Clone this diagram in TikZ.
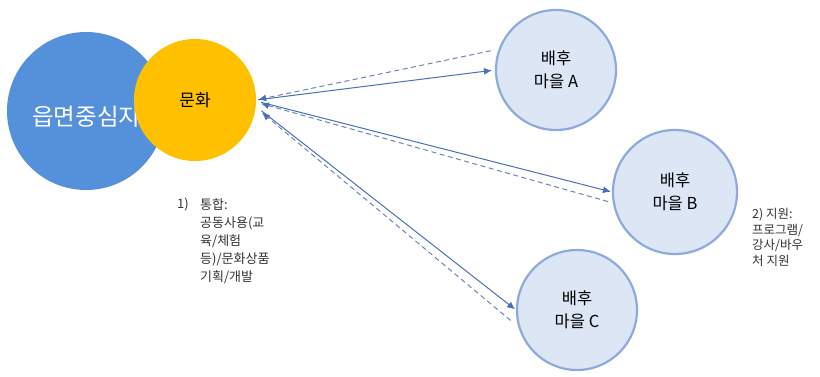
\documentclass[tikz,border=0pt]{standalone}
\usepackage{fontspec}
\setmainfont{Noto Sans CJK KR}
\usetikzlibrary{arrows.meta}
\definecolor{bigblue}{HTML}{5590DA}
\definecolor{gold}{HTML}{FFC000}
\definecolor{vfill}{HTML}{DCE6F5}
\definecolor{vline}{HTML}{8EAADB}
\definecolor{arr}{HTML}{4A70B8}
\definecolor{darr}{HTML}{6F82BA}
\definecolor{txt}{HTML}{333333}
\tikzset{
  village/.style={circle,draw=vline,line width=2.2pt,fill=vfill,minimum size=120pt,inner sep=0pt,align=center,font=\fontsize{16.5}{23}\selectfont,text=black},
  solidarr/.style={draw=arr,line width=1pt,-{Latex[length=8pt,width=7pt]}},
  dasharr/.style={draw=darr,line width=1pt,dash pattern=on 5pt off 3.5pt,arrows={-{Latex[length=8pt,width=7pt,color=arr]}}},
  note/.style={anchor=north west,align=left,text=txt,inner sep=0pt}
}
\begin{document}
\begin{tikzpicture}[x=1pt,y=-1pt]
\useasboundingbox (0,0) rectangle (820,377);
\node[circle,fill=bigblue,minimum size=158pt,inner sep=0pt] (center) at (86,111) {};
\node[text=white,font=\fontsize{23.5}{26}\selectfont,anchor=west,inner sep=0pt] (centertxt) at (32,117) {읍면중심지};
\node[circle,fill=gold,minimum size=122pt,inner sep=0pt,font=\fontsize{17}{20}\selectfont] (munhwa) at (195,100) {문화};
\node[village] (A) at (556,70) {배후\\마을 A};
\node[village,minimum size=124pt] (B) at (675,192) {배후\\마을 B};
\node[village] (C) at (577,310) {배후\\마을 C};
% solid arrows 문화 -> villages
\draw[solidarr,shorten <=2pt,shorten >=3pt] (munhwa.east) -- (A.west);
\draw[solidarr,shorten <=5pt,shorten >=1pt] (munhwa.-1) -- (B.west);
\draw[solidarr,shorten <=7pt,shorten >=1pt] (munhwa.-6) -- (C.west);
% dashed arrows villages -> 문화
\draw[dasharr,shorten <=8pt,shorten >=2pt] (A.160) -- (munhwa.east);
\draw[dasharr,shorten <=5pt,shorten >=5pt] (B.190) -- (munhwa.-2);
\draw[dasharr,shorten <=10pt,shorten >=8pt] (C.196) -- (munhwa.-7);
% notes
\node[note,font=\fontsize{13}{18}\selectfont] (n1num) at (177,198) {1)};
\node[note,font=\fontsize{13}{18}\selectfont] (n1) at (200,198) {통합:\\공동사용(교\\육/체험\\등)/문화상품\\기획/개발};
\node[note,font=\fontsize{12.5}{15.5}\selectfont] (n2) at (752,208) {2) 지원:\\프로그램/\\강사/바우\\처 지원};
\end{tikzpicture}
\end{document}
